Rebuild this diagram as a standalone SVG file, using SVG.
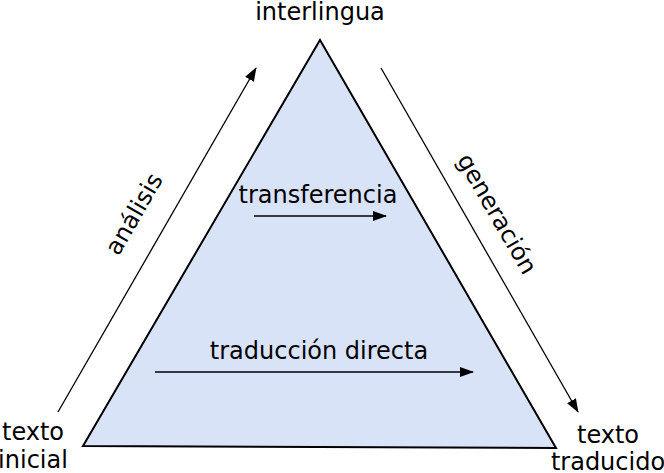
<svg xmlns="http://www.w3.org/2000/svg" width="664" height="473" viewBox="0 0 664 473">
<style>
text{font-family:"DejaVu Sans",sans-serif;font-size:24px;fill:#000;text-anchor:middle}
.c{stroke:#000;stroke-width:1.3;fill:none;marker-end:url(#a)}
</style>
<defs><marker id="a" markerWidth="14" markerHeight="10" refX="13" refY="5" orient="auto" markerUnits="userSpaceOnUse"><path d="M0,0 L14,5 L0,10 z" fill="#000"/></marker></defs>
<rect width="664" height="473" fill="#fff"/>
<g id="triangle"><polygon points="320,40 83,446 556,448" fill="#d9e3f8" stroke="#000" stroke-width="2"/></g>
<g id="connectors">
<line class="c" x1="58" y1="412" x2="256" y2="68"/>
<line class="c" x1="381" y1="68" x2="578" y2="412"/>
<line class="c" x1="254" y1="216" x2="386" y2="216"/>
<line class="c" x1="155" y1="372" x2="473" y2="372"/>
</g>
<g id="interlingua"><text x="320" y="20">interlingua</text></g>
<g id="analisis"><text transform="translate(141,218) rotate(-60)">análisis</text></g>
<g id="generacion"><text transform="translate(490,218) rotate(60)">generación</text></g>
<g id="transferencia"><text x="318" y="203">transferencia</text></g>
<g id="directa"><text x="319" y="359">traducción directa</text></g>
<g id="inicial"><text x="33" y="440">texto</text><text x="33" y="468">inicial</text></g>
<g id="traducido"><text x="608" y="443">texto</text><text x="608" y="470">traducido</text></g>
</svg>
